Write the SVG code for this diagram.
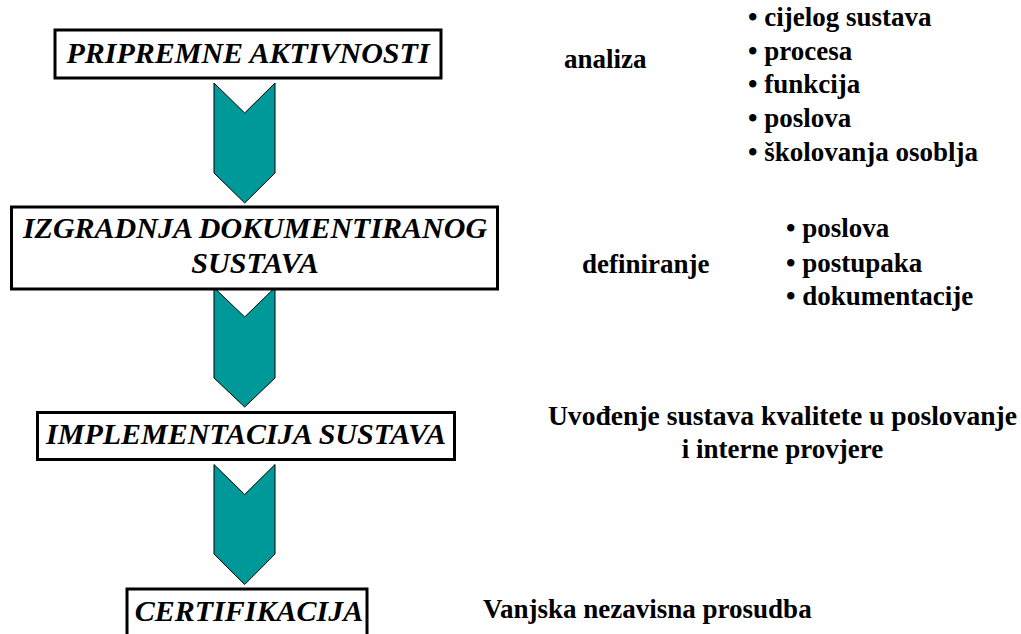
<svg xmlns="http://www.w3.org/2000/svg" width="1021" height="634" viewBox="0 0 1021 634">
<style>
.box{fill:#fff;stroke:#000;stroke-width:3}
.arr{fill:#009999;stroke:#000;stroke-width:1}
.bt{font-family:"Liberation Serif",serif;font-weight:bold;font-style:italic;font-size:30px;fill:#000;text-anchor:middle}
.rt{font-family:"Liberation Serif",serif;font-weight:bold;font-size:27px;fill:#000}
</style>
<rect width="1021" height="634" fill="#fff"/>
<g id="connectors">
<polygon class="arr" points="214,83 244.7,113 275,83 275,173 244.7,203 214,173"/>
<polygon class="arr" points="214,287.5 244.7,317 275,287.5 275,378 244.7,407 214,378"/>
<polygon class="arr" points="214,464.5 244.7,494.5 275,464.5 275,554 244.7,584.5 214,554"/>
</g>
<g id="node-pripremne">
<rect class="box" x="55" y="30" width="386" height="48"/>
<text class="bt" x="248" y="63">PRIPREMNE AKTIVNOSTI</text>
</g>
<g id="node-izgradnja">
<rect class="box" x="11.5" y="207" width="486" height="82"/>
<text class="bt" x="255" y="238">IZGRADNJA DOKUMENTIRANOG</text>
<text class="bt" x="255" y="273">SUSTAVA</text>
</g>
<g id="node-implementacija">
<rect class="box" x="37.5" y="412.5" width="417" height="47"/>
<text class="bt" x="246" y="444">IMPLEMENTACIJA SUSTAVA</text>
</g>
<g id="node-certifikacija">
<rect class="box" x="127" y="589" width="240" height="60"/>
<text class="bt" x="249" y="621">CERTIFIKACIJA</text>
</g>
<g id="label-analiza">
<text class="rt" x="564" y="68">analiza</text>
<text class="rt" x="748" y="26">• cijelog sustava</text>
<text class="rt" x="748" y="60">• procesa</text>
<text class="rt" x="748" y="93">• funkcija</text>
<text class="rt" x="748" y="127">• poslova</text>
<text class="rt" x="748" y="161">• školovanja osoblja</text>
</g>
<g id="label-definiranje">
<text class="rt" x="582" y="273">definiranje</text>
<text class="rt" x="786" y="237">• poslova</text>
<text class="rt" x="786" y="272">• postupaka</text>
<text class="rt" x="786" y="305">• dokumentacije</text>
</g>
<g id="label-uvodenje">
<text class="rt" x="782.5" y="425" text-anchor="middle" font-size="27.6" style="font-size:27.6px">Uvođenje sustava kvalitete u poslovanje</text>
<text class="rt" x="782.5" y="458" text-anchor="middle">i interne provjere</text>
</g>
<g id="label-vanjska">
<text class="rt" x="483" y="618">Vanjska nezavisna prosudba</text>
</g>
</svg>
